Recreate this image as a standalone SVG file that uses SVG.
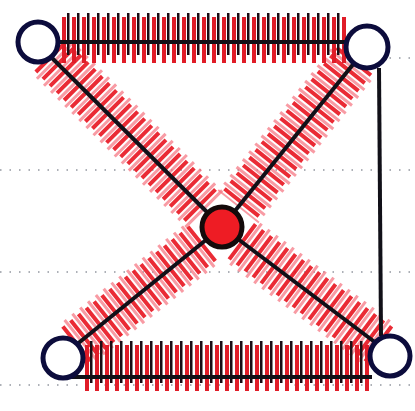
<svg xmlns="http://www.w3.org/2000/svg" width="415" height="411" viewBox="0 0 415 411">
<style>
.grid{stroke:#8a8f99;stroke-width:2;stroke-dasharray:1.5 8;fill:none;opacity:.7}
.hatchR{stroke:#e8141f;stroke-width:44;stroke-dasharray:4 6;fill:none;opacity:.9}
.hatchR2{stroke:#f5707e;stroke-width:52;stroke-dasharray:3 7;stroke-dashoffset:4;fill:none;opacity:.7}
.hatchK{stroke:#1a0d14;stroke-width:42;stroke-dasharray:2.5 7.5;stroke-dashoffset:5;fill:none}
.hatchT{stroke:#e01c28;stroke-width:46;stroke-dasharray:4 6;fill:none}
.edge{stroke:#111018;stroke-width:4;fill:none}
.node{fill:#fff;stroke:#0c0c3c;stroke-width:5}
.hub{fill:#ee1c24;stroke:#140a0a;stroke-width:5}
</style>
<rect width="415" height="411" fill="#fff"/>
<g id="grid">
<line class="grid" x1="380" y1="58" x2="415" y2="58"/>
<line class="grid" x1="0" y1="170" x2="415" y2="170"/>
<line class="grid" x1="0" y1="272" x2="415" y2="272"/>
<line class="grid" x1="0" y1="385" x2="415" y2="385"/>
</g>
<g id="connectors">
<line class="hatchR2" x1="50" y1="55" x2="205" y2="210"/>
<line class="hatchR" x1="50" y1="55" x2="205" y2="210"/>
<line class="hatchR2" x1="355" y1="60" x2="238" y2="207"/>
<line class="hatchR" x1="355" y1="60" x2="238" y2="207"/>
<line class="hatchR2" x1="75" y1="345" x2="204" y2="242"/>
<line class="hatchR" x1="75" y1="345" x2="204" y2="242"/>
<line class="hatchR2" x1="380" y1="345" x2="240" y2="240"/>
<line class="hatchR" x1="380" y1="345" x2="240" y2="240"/>
<line class="hatchT" x1="62" y1="40" x2="346" y2="40"/>
<line class="hatchK" x1="62" y1="34" x2="346" y2="34"/>
<line class="hatchT" x1="85" y1="368" x2="370" y2="368"/>
<line class="hatchK" x1="85" y1="362" x2="370" y2="362"/>
<line class="edge" x1="58" y1="42" x2="346" y2="42"/>
<line class="edge" x1="70" y1="377" x2="372" y2="377"/>
<line class="edge" x1="52" y1="58" x2="222" y2="227"/>
<line class="edge" x1="355" y1="62" x2="222" y2="227"/>
<line class="edge" x1="76" y1="345" x2="222" y2="227"/>
<line class="edge" x1="376" y1="343" x2="222" y2="227"/>
<line class="edge" x1="379" y1="68" x2="381" y2="336"/>
</g>
<g id="n_tl"><circle class="node" cx="38" cy="42" r="20"/></g>
<g id="n_tr"><circle class="node" cx="367" cy="47" r="21"/></g>
<g id="n_bl"><circle class="node" cx="63" cy="358" r="20"/></g>
<g id="n_br"><circle class="node" cx="390" cy="356" r="20"/></g>
<g id="n_c"><circle class="hub" cx="222" cy="227" r="20"/></g>
</svg>
